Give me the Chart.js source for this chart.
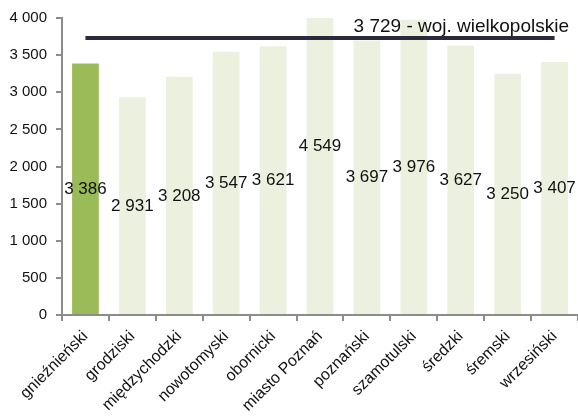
<!DOCTYPE html>
<html lang="pl">
<head>
<meta charset="UTF-8">
<title>Wielkopolskie</title>
<style>
  html, body { margin: 0; padding: 0; background: #fff; }
  #wrap { width: 578px; height: 417px; }
</style>
</head>
<body>
<div id="wrap"><canvas id="myChart"></canvas></div>

<script src="https://cdn.jsdelivr.net/npm/chart.js"></script>
<script>
// dane
const powiaty = ['gnieźnieński', 'grodziski', 'międzychodzki', 'nowotomyski', 'obornicki',
  'miasto Poznań', 'poznański', 'szamotulski', 'średzki', 'śremski', 'wrzesiński'];
const wartosci = [3386, 2931, 3208, 3547, 3621, 4549, 3697, 3976, 3627, 3250, 3407];
const srednia = 3729;
const sredniaOpis = 'woj. wielkopolskie';
const yTicks = [0, 500, 1000, 1500, 2000, 2500, 3000, 3500, 4000];

const fmt = v => String(v).replace(/\B(?=(\d{3})+(?!\d))/g, ' ');
const FONT = 'Liberation Sans, Arial, sans-serif';

const kolory = wartosci.map((v, i) => i === 0 ? '#9bbb59' : '#ebf1de');

// etykiety w srodku slupkow + opis linii
const etykiety = {
  id: 'etykiety',
  afterDatasetsDraw(chart) {
    const ctx = chart.ctx;
    const y = chart.scales.y;
    const meta = chart.getDatasetMeta(1);
    ctx.save();
    ctx.fillStyle = '#111';
    ctx.font = '17px ' + FONT;
    ctx.textAlign = 'center';
    ctx.textBaseline = 'middle';
    meta.data.forEach((bar, i) => {
      ctx.fillText(fmt(wartosci[i]), bar.x, y.getPixelForValue(wartosci[i] / 2));
    });
    ctx.font = '19px ' + FONT;
    ctx.textAlign = 'right';
    ctx.textBaseline = 'alphabetic';
    ctx.fillText(fmt(srednia) + ' - ' + sredniaOpis, 569, y.getPixelForValue(srednia) - 6);
    ctx.restore();
  }
};

new Chart(document.getElementById('myChart'), {
  type: 'bar',
  data: {
    labels: powiaty,
    datasets: [{
      type: 'line',
      data: powiaty.map(() => srednia),
      borderColor: '#2a2a3a',
      borderWidth: 4,
      pointRadius: 0,
      order: 0
    }, {
      data: wartosci,
      backgroundColor: kolory,
      barPercentage: 0.57,
      categoryPercentage: 1,
      order: 1
    }]
  },
  options: {
    responsive: true,
    maintainAspectRatio: false,
    animation: false,
    layout: { padding: { top: 18, right: 0, left: 0, bottom: 0 } },
    plugins: { legend: { display: false }, tooltip: { enabled: false } },
    scales: {
      x: {
        grid: { display: true, drawOnChartArea: false, color: '#8c8c8c', lineWidth: 2, tickLength: 6, offset: true },
        border: { color: '#8c8c8c', width: 2 },
        ticks: { color: '#111', font: { family: FONT, size: 16 }, minRotation: 45, maxRotation: 45, padding: 6, autoSkip: false },
        afterFit(s) { s.height = 102; }
      },
      y: {
        min: 0,
        max: 4000,
        afterBuildTicks(s) { s.ticks = yTicks.map(v => ({ value: v })); },
        grid: { display: true, drawOnChartArea: false, color: '#8c8c8c', lineWidth: 2, tickLength: 6 },
        border: { color: '#8c8c8c', width: 2 },
        ticks: { color: '#111', font: { family: FONT, size: 15 }, padding: 9, callback: v => fmt(v) },
        afterFit(s) { s.width = 62; }
      }
    }
  },
  plugins: [etykiety]
});
</script>
</body>
</html>
